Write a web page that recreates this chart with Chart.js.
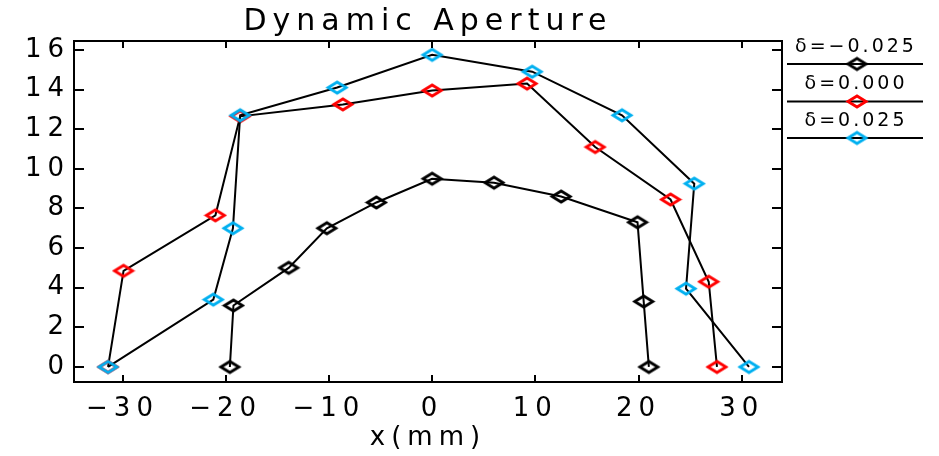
<!DOCTYPE html>
<html>
<head>
<meta charset="utf-8">
<script src="https://cdn.jsdelivr.net/npm/chart.js@4/dist/chart.umd.min.js"></script>
<style>
  html, body { margin: 0; padding: 0; background: #fff; }
</style>
</head>
<body>
<canvas id="c" width="939" height="456"></canvas>
<script>
// Series: aperture boundary (x in mm, y in mm) for three momentum offsets
const seriesLabels = ['δ=−0.025', 'δ=0.000', 'δ=0.025'];
const markerColors = ['#000000', '#ff0000', '#00b0f0'];

const xNeg = [-19.6, -19.25, -13.9, -10.2, -5.4, 0.0, 6.0, 12.5, 19.9, 20.5, 21.0];
const yNeg = [0, 3.1, 5.0, 7.0, 8.3, 9.5, 9.3, 8.6, 7.3, 3.3, 0];

const xZero = [-31.4, -29.9, -21.0, -18.6, -8.65, 0.0, 9.2, 15.8, 23.1, 26.8, 27.6];
const yZero = [0, 4.85, 7.65, 12.65, 13.25, 13.95, 14.3, 11.1, 8.45, 4.3, 0];

const xPos = [-31.4, -21.2, -19.3, -18.6, -9.2, 0.0, 9.7, 18.4, 25.4, 24.6, 30.7];
const yPos = [0, 3.4, 7.0, 12.7, 14.1, 15.75, 14.9, 12.7, 9.25, 3.95, 0];

const xTicks = [-30, -20, -10, 0, 10, 20, 30];
const xTickLabels = ['−30', '−20', '−10', '0', '10', '20', '30'];
const yTicks = [0, 2, 4, 6, 8, 10, 12, 14, 16];
const yTickLabels = ['0', '2', '4', '6', '8', '10', '12', '14', '16'];

const FONT = 'DejaVu Sans';
const SPACING = '6px';

// hollow, slightly flattened diamond used as the point marker
function diamond(color) {
  const c = document.createElement('canvas');
  c.width = 24; c.height = 17;
  const g = c.getContext('2d');
  g.strokeStyle = color;
  g.lineWidth = 2.8;
  g.lineJoin = 'miter';
  g.beginPath();
  g.moveTo(3, 8.5); g.lineTo(12, 3); g.lineTo(21, 8.5); g.lineTo(12, 14);
  g.closePath();
  g.stroke();
  return c;
}

function toPoints(xs, ys) {
  return xs.map((x, i) => ({ x: x, y: ys[i] }));
}

const seriesX = [xNeg, xZero, xPos];
const seriesY = [yNeg, yZero, yPos];
const markers = markerColors.map(diamond);

const datasets = seriesLabels.map((label, i) => ({
  label: label,
  data: toPoints(seriesX[i], seriesY[i]),
  showLine: true,
  borderColor: '#000',
  borderWidth: 2,
  pointStyle: markers[i],
  pointRadius: 8,
  order: 3 - i
}));

// boxed frame with inward ticks, letter spacing, and the stacked legend
const framePlugin = {
  id: 'frame',
  beforeUpdate(chart) { chart.ctx.letterSpacing = SPACING; },
  beforeDraw(chart) { chart.ctx.letterSpacing = SPACING; },
  afterDraw(chart) {
    const ctx = chart.ctx;
    const a = chart.chartArea;
    const xs = chart.scales.x, ys = chart.scales.y;
    ctx.save();
    ctx.strokeStyle = '#000';
    ctx.lineWidth = 2;
    ctx.strokeRect(a.left, a.top, a.right - a.left, a.bottom - a.top);
    ctx.beginPath();
    xTicks.forEach(v => {
      const px = Math.round(xs.getPixelForValue(v));
      ctx.moveTo(px, a.bottom); ctx.lineTo(px, a.bottom - 7);
      ctx.moveTo(px, a.top); ctx.lineTo(px, a.top + 7);
    });
    yTicks.forEach(v => {
      const py = Math.round(ys.getPixelForValue(v));
      ctx.moveTo(a.left, py); ctx.lineTo(a.left + 10, py);
      ctx.moveTo(a.right, py); ctx.lineTo(a.right - 10, py);
    });
    ctx.stroke();

    // legend: label above a rule carrying the marker
    ctx.letterSpacing = '3px';
    ctx.font = '19px "' + FONT + '"';
    ctx.fillStyle = '#000';
    ctx.textAlign = 'center';
    ctx.textBaseline = 'middle';
    const textY = [47, 84, 121];
    const ruleY = [64, 101.5, 138];
    chart.data.datasets.forEach((ds, i) => {
      ctx.fillText(ds.label, 856, textY[i]);
      ctx.beginPath();
      ctx.moveTo(787, ruleY[i]); ctx.lineTo(923, ruleY[i]);
      ctx.stroke();
      const m = markers[i];
      ctx.drawImage(m, 857 - m.width / 2, ruleY[i] - m.height / 2);
    });
    ctx.restore();
  }
};

new Chart(document.getElementById('c'), {
  type: 'scatter',
  data: { datasets: datasets },
  plugins: [framePlugin],
  options: {
    responsive: false,
    devicePixelRatio: 1,
    animation: false,
    layout: { padding: { left: 0, right: 157, top: 0, bottom: 0 } },
    plugins: {
      legend: { display: false },
      tooltip: { enabled: false },
      title: {
        display: true,
        text: 'Dynamic Aperture',
        fullSize: false,
        color: '#000',
        font: { family: FONT, size: 30, weight: 'normal' },
        padding: { top: 4, bottom: 1 }
      }
    },
    scales: {
      x: {
        type: 'linear',
        min: -34.7,
        max: 33.9,
        afterBuildTicks: s => { s.ticks = xTicks.map(v => ({ value: v })); },
        afterFit: s => { s.height = 74; },
        grid: { display: false, drawTicks: false },
        border: { display: false },
        ticks: {
          autoSkip: false,
          maxRotation: 0,
          padding: 12,
          color: '#000',
          font: { family: FONT, size: 26 },
          callback: v => xTickLabels[xTicks.indexOf(v)]
        },
        title: {
          display: true,
          text: 'x(mm)',
          color: '#000',
          font: { family: FONT, size: 26 },
          padding: { top: 0, bottom: 2 }
        }
      },
      y: {
        type: 'linear',
        min: -0.76,
        max: 16.45,
        afterBuildTicks: s => { s.ticks = yTicks.map(v => ({ value: v })); },
        afterFit: s => { s.width = 74; },
        grid: { display: false, drawTicks: false },
        border: { display: false },
        ticks: {
          autoSkip: false,
          padding: 4,
          color: '#000',
          font: { family: FONT, size: 26 },
          callback: v => yTickLabels[yTicks.indexOf(v)]
        }
      }
    }
  }
});
</script>
</body>
</html>
